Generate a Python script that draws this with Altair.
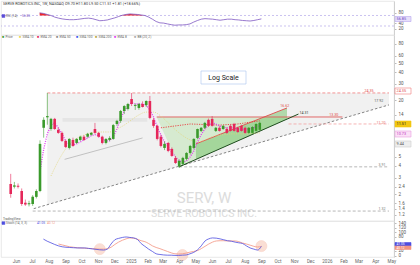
import altair as alt
import pandas as pd

FONT = "Roboto"
GREEN = "#3a9a2b"
RED = "#e5275a"
MAGENTA = "#e03cf0"
YELLOW = "#e2d57a"

# ---------------- data ----------------
dates = [d.strftime("%Y-%m-%d") for d in pd.date_range("2024-05-13", periods=69, freq="7D")]

opens = [2.57, 2.40, 2.45, 2.16, 1.62, 1.56, 1.57, 1.87, 2.16, 10.2,
         13.2, 9.9, 12.7, 9.7, 9.0, 7.39, 6.22, 7.57, 7.03, 7.57,
         8.2, 8.2, 8.6, 9.9, 9.0, 8.2, 7.03, 7.57, 7.76, 11.2,
         12.1, 15.4, 16.2, 20.7, 17.4, 16.6, 18.3, 17.8, 19.7, 12.4,
         10.7, 8.2, 6.22, 7.03, 6.07, 4.87, 3.95, 4.20, 4.75, 5.50,
         6.22, 7.95, 9.45, 10.2, 12.4, 12.7, 9.45, 10.2, 9.9, 9.9,
         10.7, 11.2, 10.2, 10.7, 10.2, 9.0, 9.0, 9.45, 9.7]
highs = [3.29, 2.70, 2.60, 2.30, 1.75, 1.70, 1.95, 2.25, 7.50, 13.2,
         24.0, 13.0, 13.0, 10.2, 9.3, 7.6, 7.9, 8.0, 7.9, 8.4,
         8.5, 9.0, 9.2, 11.5, 9.2, 8.4, 7.9, 8.3, 11.2, 12.4,
         15.8, 17.8, 18.8, 24.0, 18.5, 18.8, 19.5, 20.0, 22.3, 13.0,
         11.0, 8.6, 7.3, 7.2, 6.3, 5.1, 4.7, 5.0, 5.6, 6.7,
         7.9, 10.0, 10.4, 11.8, 12.8, 13.6, 10.4, 10.6, 10.9, 10.3,
         11.0, 11.5, 10.5, 11.0, 10.5, 10.4, 10.6, 11.4, 11.8]
lows = [1.83, 2.30, 2.30, 1.50, 1.50, 1.48, 1.50, 1.80, 2.10, 8.0,
        11.0, 9.5, 9.7, 8.8, 7.2, 6.2, 6.0, 6.4, 6.9, 7.4,
        7.4, 8.0, 8.4, 8.8, 8.0, 6.8, 6.8, 7.4, 7.6, 10.7,
        11.5, 14.3, 15.6, 17.4, 15.8, 15.9, 16.8, 17.0, 12.6, 10.2,
        7.5, 6.3, 5.9, 5.6, 5.0, 4.2, 3.80, 4.1, 4.6, 5.3,
        6.0, 7.7, 9.2, 9.9, 10.4, 10.5, 9.2, 9.3, 9.7, 8.8,
        9.3, 9.3, 9.0, 9.3, 8.8, 8.8, 8.8, 9.3, 9.5]
closes = [2.01, 2.48, 2.40, 1.57, 1.55, 1.60, 1.87, 2.16, 6.87, 12.4,
          13.6, 12.7, 9.9, 9.0, 7.39, 6.37, 7.76, 6.53, 7.76, 8.2,
          7.57, 8.8, 9.0, 9.0, 8.2, 7.03, 7.76, 7.95, 10.9, 12.1,
          15.4, 17.4, 18.3, 18.3, 17.8, 18.3, 17.0, 19.7, 13.0, 10.7,
          7.76, 6.53, 6.87, 5.78, 5.11, 4.30, 4.52, 4.87, 5.50, 6.53,
          7.76, 9.9, 10.2, 11.5, 10.7, 10.7, 10.2, 9.45, 10.7, 9.0,
          9.45, 9.45, 9.2, 9.45, 9.0, 10.2, 10.4, 11.2, 11.5]

# magenta dotted average (from week 8)
ema_fast = [3.5, 6.0, 8.8, 10.9, 11.5, 10.2, 8.8, 7.4, 6.87, 6.7,
            6.87, 7.2, 7.57, 7.95, 8.4, 8.6, 8.4, 7.76, 7.39, 7.39,
            8.2, 9.9, 12.7, 15.4, 17.4, 18.9, 18.3, 18.3, 18.3, 17.8,
            15.8, 13.3, 10.4, 8.6, 7.2, 6.37, 5.6, 5.0, 4.52, 4.4,
            4.52, 5.0, 5.78, 7.2, 8.6, 9.9, 10.9, 11.5, 11.2, 10.7,
            10.4, 10.2, 10.2, 10.2, 9.9, 9.9, 9.7, 9.9, 10.2, 10.4,
            10.7]
# pale yellow dotted average (read at some weeks)
slow_idx = [11, 13, 15, 17, 19, 21, 24, 27, 29, 31, 33, 35, 37, 39, 41, 43, 45, 47, 49, 51, 53, 55, 58, 61, 64, 68]
slow_vals = [3.13, 4.52, 6.07, 7.39, 8.2, 8.8, 9.2, 9.2, 9.9, 10.9, 12.4, 14.0, 15.0, 15.0, 13.6, 11.5,
             9.7, 8.4, 7.57, 7.2, 7.57, 8.2, 8.6, 8.8, 8.8, 9.0]
# red dotted line
avwap_idx = [41, 49, 57, 62, 68]
avwap_vals = [10.2, 11.2, 10.9, 11.2, 12.1]

# RSI (from week 9)
rsi = [80, 78, 74, 70, 64, 60, 57, 55, 54, 54,
       55, 57, 59, 60, 58, 54, 50, 51, 53, 57,
       61, 66, 71, 74, 76, 75, 74, 72, 70, 64,
       56, 47, 42, 41, 38, 35, 33, 34, 34, 35,
       38, 45, 51, 56, 58, 57, 56, 54, 52, 54,
       56, 56, 54, 53, 51, 50, 49, 51, 54, 57]
# Stochastic %K (from week 10) and %D (from week 14)
stoch_k = [71, 62, 55, 48, 42, 38, 36, 35, 34, 33,
           33, 33, 31, 29, 27, 25, 24, 28, 50, 68,
           74, 78, 80, 78, 76, 70, 52, 40, 28, 18,
           8, 5, 3, 2, 2, 1, 1, 2, 3, 8,
           14, 25, 42, 63, 72, 76, 75, 72, 68, 64,
           62, 58, 55, 52, 42, 33, 28, 24, 40]
stoch_d = [50, 46, 42, 38, 36, 34, 33, 32, 31, 30,
           29, 28, 28, 30, 36, 48, 58, 66, 72, 76,
           75, 70, 64, 60, 52, 42, 35, 30, 24, 18,
           12, 8, 7, 8, 11, 15, 18, 22, 30, 40,
           50, 58, 63, 64, 64, 63, 63, 63, 60, 54,
           50, 45, 40, 37, 40]
stoch_marks_idx = [25, 47, 68]
stoch_marks = [28, 3, 41]

# drawings (two end points each)
top_dates = ["2024-07-22", "2026-05-06"]; top_vals = [24.0, 24.0]
trend_dates = ["2024-06-26", "2026-05-06"]; trend_vals = [1.40, 17.9]
gray_bottom = [1.54, 17.9]
support_dates = ["2025-03-31", "2025-11-14"]; support_vals = [3.91, 14.3]
upper_dates = ["2025-05-02", "2025-10-23"]; upper_vals = [6.87, 16.6]
upper_bottom = [4.68, 12.6]
neck_dates = ["2025-02-16", "2026-02-06"]; neck_vals = [13.3, 13.3]
triA_dates = ["2025-02-16", "2025-03-31", "2025-11-01"]; triA_top = [13.3, 13.3, 13.3]; triA_bot = [13.3, 3.91, 13.3]
pink_dates = ["2025-10-26", "2026-05-06"]; pink_vals = [11.2, 11.2]
sup1_dates = ["2025-03-31", "2026-05-06"]; sup1_vals = [3.91, 3.91]
sup2_dates = ["2024-06-24", "2026-05-06"]; sup2_vals = [1.32, 1.32]
band_dates = ["2024-08-20", "2025-01-29"]; band_top = [13.0, 13.0]; band_bot = [11.8, 11.8]
diag_dates = ["2024-08-24", "2025-01-20"]; diag_vals = [4.7, 7.95]

price_ticks = [80, 60, 50, 40, 30, 20, 14, 5, 4, 3, 2.4, 2, 1.6, 1.4, 1.2]
rsi_ticks = [80, 40, 20]
stoch_ticks = [140, 120, 100, 80, 20, 0]

W = 393

# ---------------- scales / axes ----------------
xs = alt.Scale(type="utc", domain=[alt.DateTime(year=2024, month=5, date=4, utc=True),
                                   alt.DateTime(year=2026, month=5, date=6, utc=True)])
XN = alt.X("date:T", scale=xs, axis=None)
x_axis = alt.Axis(orient="bottom", tickCount={"interval": "month", "step": 1},
                  labelExpr="utcmonth(datum.value) == 0 ? utcFormat(datum.value, '%Y') : utcFormat(datum.value, '%b')",
                  labelFontSize=4.5, labelPadding=1.5, tickSize=0, domain=False, grid=False,
                  labelOverlap=False, title=None, labelColor="#666", labelFlush=False)
XA = alt.X("date:T", scale=xs, axis=x_axis)


def right_axis(vals):
    return alt.Axis(orient="right", values=vals, format=".2~f", title=None, labelFontSize=4.5,
                    tickSize=2, labelPadding=2, grid=False, labelOverlap=False, labelFlush=False,
                    labelColor="#555", tickColor="#bbb", domainColor="#d0d0d0")


ys_price = alt.Scale(type="log", domain=[1.034, 99.6], nice=False)
ys_rsi = alt.Scale(domain=[-4.3, 125.2], nice=False, zero=False)
ys_st = alt.Scale(domain=[-5.8, 148.6], nice=False, zero=False)
ax_price = right_axis(price_ticks)
ax_rsi = right_axis(rsi_ticks)
ax_st = right_axis(stoch_ticks)


def PY(f):
    return alt.Y(f + ":Q", scale=ys_price, axis=ax_price)


def seg(ds, vals, **extra):
    d = {"date": ds, "v": vals}
    d.update(extra)
    return pd.DataFrame(d)


def pix_text(rows, **kw):
    df = pd.DataFrame(rows, columns=["px", "py", "t", "c", "fs"])
    return alt.Chart(df).mark_text(baseline="middle", **kw).encode(
        x=alt.X("px:Q", scale=None, axis=None), y=alt.Y("py:Q", scale=None, axis=None),
        text="t:N", color=alt.Color("c:N", scale=None), size=alt.Size("fs:Q", scale=None))


def pix_rect(rows, **kw):
    df = pd.DataFrame(rows, columns=["px", "px2", "py", "py2", "f", "s"])
    return alt.Chart(df).mark_rect(strokeWidth=0.6, **kw).encode(
        x=alt.X("px:Q", scale=None, axis=None), x2="px2:Q",
        y=alt.Y("py:Q", scale=None, axis=None), y2="py2:Q",
        fill=alt.Fill("f:N", scale=None), stroke=alt.Stroke("s:N", scale=None))


# ---------------- main price pane ----------------
cdf = pd.DataFrame({"date": dates, "open": opens, "high": highs, "low": lows, "close": closes})
ccol = alt.condition("datum.close >= datum.open", alt.value(GREEN), alt.value(RED))

gray_area = alt.Chart(seg(top_dates, top_vals, b=gray_bottom)).mark_area(color="#efefef", opacity=0.85).encode(
    x=XN, y=PY("v"), y2="b:Q")
triA = alt.Chart(pd.DataFrame({"date": triA_dates, "v": triA_top, "b": triA_bot})).mark_area(
    color="#bfe3b5", opacity=0.55).encode(x=XN, y=PY("v"), y2="b:Q")
triB = alt.Chart(seg(upper_dates, upper_vals, b=upper_bottom)).mark_area(color="#72c266", opacity=0.5).encode(
    x=XN, y=PY("v"), y2="b:Q")
band = alt.Chart(seg(band_dates, band_top, b=band_bot)).mark_area(color="#d4d4d4", opacity=0.4).encode(
    x=XN, y=PY("v"), y2="b:Q")


def line(df, color, width=0.8, dash=None, opacity=1.0, interp="linear"):
    kw = dict(color=color, strokeWidth=width, opacity=opacity, interpolate=interp)
    if dash:
        kw["strokeDash"] = dash
    return alt.Chart(df).mark_line(**kw).encode(x=XN, y=PY("v"))


diag = line(seg(diag_dates, diag_vals), "#b5b5b5", 0.8)
top_line = line(seg(top_dates, top_vals), "#f07a7a", 0.8, [3, 2])
trend_line = line(seg(trend_dates, trend_vals), "#666666", 0.8, [2.5, 2])
sup1 = line(seg(sup1_dates, sup1_vals), "#9a9a9a", 0.7, [3, 2])
sup2 = line(seg(sup2_dates, sup2_vals), "#9a9a9a", 0.7, [3, 2])
neck = line(seg(neck_dates, neck_vals), "#e05a5a", 0.9)
upper = line(seg(upper_dates, upper_vals), "#e04848", 0.9)
support = line(seg(support_dates, support_vals), "#1f4d1f", 1.0)
pink = line(seg(pink_dates, pink_vals), "#f3a0a0", 0.8, [3, 2])
slow = line(seg([dates[i] for i in slow_idx], slow_vals), YELLOW, 0.8, [1, 1.3], 1.0, "monotone")
avwap = line(seg([dates[i] for i in avwap_idx], avwap_vals), "#e8383d", 0.9, [1.2, 1.2])
ema = line(seg(dates[8:], ema_fast), MAGENTA, 1.3, [1, 1.3])

wicks = alt.Chart(cdf).mark_rule(strokeWidth=0.6).encode(x=XN, y=PY("low"), y2="high:Q", color=ccol)
bodies = alt.Chart(cdf).mark_bar(size=2.6).encode(x=XN, y=PY("open"), y2="close:Q", color=ccol)

tags = pd.DataFrame({
    "date": ["2025-10-10", "2025-11-16", "2026-01-12", "2026-04-08", "2026-03-20", "2026-04-12", "2026-04-16", "2026-04-16"],
    "v": [17.4, 14.5, 13.9, 19.6, 25.4, 11.6, 4.1, 1.38],
    "t": ["16.62", "14.31", "13.30", "17.92", "24.35", "11.20", "3.91", "1.32"],
    "c": ["#e04848", "#333333", "#e04848", "#555555", "#e04848", "#e87070", "#777777", "#777777"],
})
tag_text = alt.Chart(tags).mark_text(fontSize=3.6, align="left", baseline="middle").encode(
    x=XN, y=PY("v"), text="t:N", color=alt.Color("c:N", scale=None))

data_layers = alt.layer(gray_area, band, triA, triB, diag, top_line, trend_line, sup1, sup2,
                        neck, upper, support, pink, slow, avwap, ema, wicks, bodies, tag_text)

watermark = alt.layer(
    pix_text([[203, 163, "SERV, W", "#dcdcdc", 15]], align="center", fontWeight="normal"),
    pix_text([[203, 179, "SERVE ROBOTICS INC.", "#dcdcdc", 10.5]], align="center"),
)
legend_rows = [
    [1, 2, "■", GREEN, 3.6], [4.5, 2, "Price", "#666", 3.2],
    [18, 2, "■", "#e8d44d", 3.6], [21.5, 2, "SMA 10", "#666", 3.2],
    [36, 2, "■", RED, 3.6], [39.5, 2, "EMA 20", "#666", 3.2],
    [55, 2, "■", "#888888", 3.6], [58.5, 2, "EMA 50", "#666", 3.2],
    [75, 2, "■", "#3355ee", 3.6], [78.5, 2, "SMA 100", "#666", 3.2],
    [94, 2, "■", "#b5a53a", 3.6], [97.5, 2, "SMA 200", "#666", 3.2],
    [113, 2, "■", MAGENTA, 3.6], [116.5, 2, "EMA 8", "#666", 3.2],
    [133, 2, "■", "#aaaaaa", 3.6], [136.5, 2, "BB (20, 2)", "#666", 3.2],
    [2, 184, "TradingView", "#555", 3.2],
]
main_labels = alt.layer(
    pix_rect([[200, 245, 36, 49, "#ffffff", "#a9c4ef"],
              [394, 410, 86, 92, "#f2c811", "#f2c811"],
              [394, 410, 96, 102, "#fbe0f6", "#e9a0e0"],
              [394, 410, 106, 112, "#eeeeee", "#cccccc"],
              [394, 410, 53, 59, "#ffffff", "#f07a7a"]]),
    pix_text([[222.5, 42.5, "Log Scale", "#222", 7]], align="center"),
    pix_text(legend_rows, align="left"),
    pix_text([[395.5, 89, "11.51", "#222", 3.8], [395.5, 99, "10.73", "#c030c0", 3.8],
              [395.5, 109, "9.44", "#555", 3.8], [395.5, 56, "24.35", "#e04848", 3.8]], align="left"),
)
main_panel = alt.layer(watermark, data_layers, main_labels).resolve_scale(
    x="independent", y="independent").properties(width=W, height=186)

# ---------------- RSI pane ----------------
rsi_df = seg(dates[9:], rsi)
RY = lambda f: alt.Y(f + ":Q", scale=ys_rsi, axis=ax_rsi)
rsi_rules = alt.Chart(pd.DataFrame({"v": [70, 30]})).mark_rule(
    strokeDash=[2, 2], color="#a89be6", strokeWidth=0.6).encode(y=RY("v"))
rsi_fill = alt.Chart(rsi_df).transform_calculate(ob="max(datum.v, 70)").mark_area(
    color="#ee1111", opacity=0.9).encode(x=XN, y=RY("ob"), y2=alt.datum(70))
rsi_line = alt.Chart(rsi_df).mark_line(color="#7e57c2", strokeWidth=0.8).encode(x=XN, y=RY("v"))
rsi_data = alt.layer(rsi_rules, rsi_fill, rsi_line)
rsi_labels = alt.layer(
    pix_text([[2, 3, "SERVE ROBOTICS INC, 1W, NASDAQ   O9.70  H11.80  L9.50  C11.51  +1.81 (+18.66%)", "#333", 3.8]], align="left"),
    pix_rect([[1, 3.8, 13.6, 16.4, "#5b4bd6", "#5b4bd6"], [394, 410, 15.5, 20.5, "#e6defa", "#b7a5ee"]]),
    pix_text([[5, 15, "RSI (14)", "#666", 3.2], [21, 15, "56.85", "#7e57c2", 3.2],
              [395.5, 18, "56.85", "#6a45c0", 3.8]], align="left"),
)
rsi_panel = alt.layer(rsi_data, rsi_labels).resolve_scale(
    x="independent", y="independent").properties(width=W, height=34)

# ---------------- Stochastic pane ----------------
SY = lambda f: alt.Y(f + ":Q", scale=ys_st, axis=ax_st)
st_rules = alt.Chart(pd.DataFrame({"v": [80, 20]})).mark_rule(color="#a9a6f2", strokeWidth=0.8).encode(
    x=XA, y=SY("v"))
st_marks = alt.Chart(seg([dates[i] for i in stoch_marks_idx], stoch_marks)).mark_point(
    filled=True, size=120, color="#f6b8a2", opacity=0.45, stroke="#f29a7e", strokeWidth=0.6).encode(
    x=XA, y=SY("v"))
st_d = alt.Chart(seg(dates[14:], stoch_d)).mark_line(color="#f29380", strokeWidth=0.8,
                                                     interpolate="monotone").encode(x=XA, y=SY("v"))
st_k = alt.Chart(seg(dates[10:], stoch_k)).mark_line(color="#4d4de0", strokeWidth=0.8,
                                                     interpolate="monotone").encode(x=XA, y=SY("v"))
st_data = alt.layer(st_rules, st_marks, st_d, st_k)
st_labels = alt.layer(
    pix_rect([[1, 3.8, 0.8, 3.4, "#4d4de0", "#4d4de0"],
              [394, 410, 21.5, 25, "#4d4de0", "#4d4de0"], [394, 410, 25, 28.5, "#f29380", "#f29380"]]),
    pix_text([[5, 2, "Stoch (14, 3, 3)", "#666", 3.2], [36, 2, "41.05", "#4d4de0", 3.2],
              [46, 2, "40.12", "#f29380", 3.2],
              [395.5, 23.3, "41.05", "#ffffff", 3.2], [395.5, 26.8, "40.12", "#ffffff", 3.2]], align="left"),
)
stoch_panel = alt.layer(st_data, st_labels).resolve_scale(
    x="independent", y="independent").properties(width=W, height=36)

chart = alt.vconcat(rsi_panel, main_panel, stoch_panel, spacing=0, bounds="flush").properties(
    padding=0, background="white"
).configure_view(stroke="#e2e2e2", strokeWidth=0.8).configure_axis(
    labelFont=FONT).configure_text(font=FONT)

chart.save("out.html", embed_options={"renderer": "svg", "actions": False})
